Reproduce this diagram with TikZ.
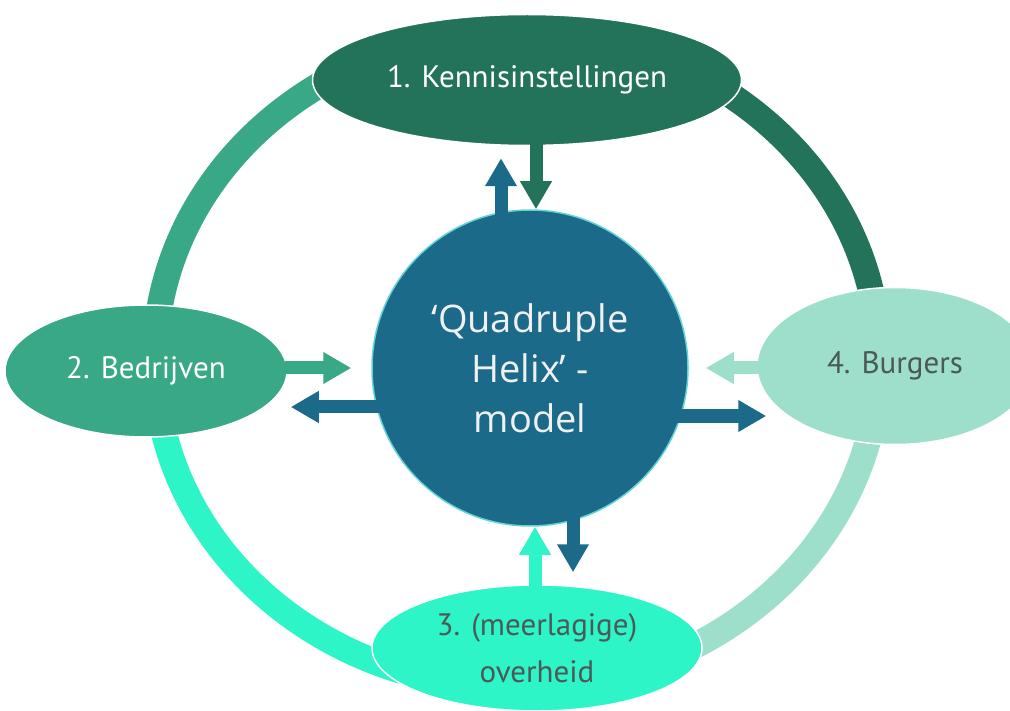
\documentclass[tikz,border=0pt]{standalone}
\usepackage{fontspec}
\setmainfont{PT Sans}
\newfontfamily\helixfont{Open Sans}
\usetikzlibrary{shapes.geometric,arrows.meta}

\definecolor{kennisgroen}{HTML}{23735A}
\definecolor{bedrijfgroen}{HTML}{38A886}
\definecolor{burgermint}{HTML}{9EDFCB}
\definecolor{overheidaqua}{HTML}{2DF5C8}
\definecolor{helixblauw}{HTML}{1B6A8A}
\definecolor{randcyaan}{HTML}{62D3D3}
\definecolor{tekstgrijs}{HTML}{4C5956}

\tikzset{
  partij/.style={ellipse, draw=white, line width=1.5pt, inner sep=0pt, align=center,
    font=\fontsize{31}{47}\selectfont},
  ring/.style={line width=26pt},
  pijl/.style={line width=13pt, -{Triangle[width=30pt,length=28pt]}},
}

\begin{document}
\begin{tikzpicture}[x=1pt,y=-1pt]
\useasboundingbox (0,0) rectangle (1010,711);

% ring, one quarter per colour
\begin{scope}
\clip (0,0) rectangle (517,360);
\draw[ring,bedrijfgroen] (517,360) ellipse [x radius=362, y radius=328];
\end{scope}
\begin{scope}
\clip (517,0) rectangle (1010,360);
\draw[ring,kennisgroen] (517,360) ellipse [x radius=362, y radius=328];
\end{scope}
\begin{scope}
\clip (517,360) rectangle (1010,711);
\draw[ring,burgermint] (517,360) ellipse [x radius=362, y radius=328];
\end{scope}
\begin{scope}
\clip (0,360) rectangle (517,711);
\draw[ring,overheidaqua] (517,360) ellipse [x radius=362, y radius=328];
\end{scope}

% NODES
\node[partij,fill=kennisgroen,text=white,minimum width=429,minimum height=131] (kennis) at (527,80) {1. Kennisinstellingen};
\node[partij,fill=bedrijfgroen,text=white,minimum width=282,minimum height=132] (bedrijf) at (146,371) {2. Bedrijven};
\node[partij,fill=burgermint,text=tekstgrijs,minimum width=276,minimum height=157] (burger) at (895,366) {4. Burgers};
\node[partij,fill=overheidaqua,text=tekstgrijs,minimum width=330,minimum height=126] (overheid) at (537,648) {3. (meerlagige)\\overheid};
\node[circle,fill=helixblauw,draw=randcyaan,line width=1.5pt,minimum size=316,inner sep=0pt,
  text=white!94!black,align=center,font=\helixfont\fontsize{38}{50}\selectfont] (helix) at (530,368)
  {‘Quadruple\\Helix’ -\\model};

% arrows top
\draw[pijl,helixblauw] ([xshift=-29pt,yshift=151pt]helix.center) -- ([xshift=-26pt,yshift=-12pt]kennis.south);
\draw[pijl,kennisgroen] ([xshift=9pt,yshift=2pt]kennis.south) -- ([xshift=6pt]helix.north);
% arrows left
\draw[pijl,bedrijfgroen] ([xshift=-3pt,yshift=3pt]bedrijf.east) -- ([xshift=-20pt]helix.west);
\draw[pijl,helixblauw] ([xshift=-150pt,yshift=-39pt]helix.center) -- ([xshift=3pt,yshift=-36pt]bedrijf.east);
% arrows right
\draw[pijl,burgermint] ([xshift=4pt,yshift=-2pt]burger.west) -- ([xshift=17pt]helix.east);
\draw[pijl,helixblauw] ([xshift=147pt,yshift=-48pt]helix.center) -- ([xshift=10pt,yshift=-50pt]burger.west);
% arrows bottom
\draw[pijl,overheidaqua] ([xshift=-2pt,yshift=-3pt]overheid.north) -- ([xshift=5pt]helix.south);
\draw[pijl,helixblauw] ([xshift=43pt,yshift=-148pt]helix.center) -- ([xshift=36pt,yshift=12pt]overheid.north);

\end{tikzpicture}
\end{document}
